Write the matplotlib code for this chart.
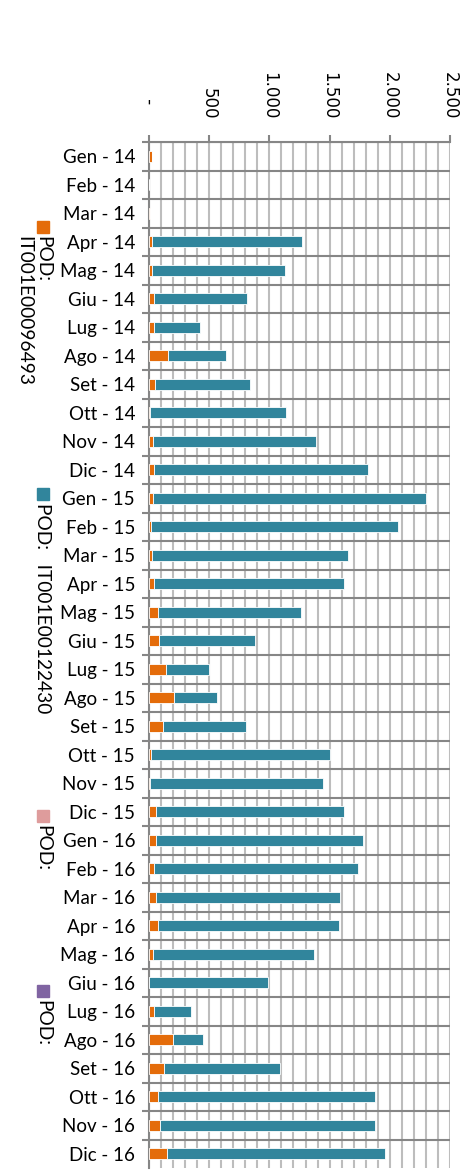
import matplotlib
matplotlib.use('Agg')
import matplotlib.pyplot as plt
from matplotlib.patches import Rectangle
import numpy as np

months = ['Gen', 'Feb', 'Mar', 'Apr', 'Mag', 'Giu', 'Lug', 'Ago', 'Set', 'Ott', 'Nov', 'Dic']
categories = ['%s - %s' % (m, y) for y in ['14', '15', '16'] for m in months]

# POD IT001E00096493 (orange)
pod_96493 = [28, 3, 12, 22, 25, 39, 42, 160, 50, 8, 36, 39,
             36, 17, 28, 39, 75, 86, 139, 205, 116, 17, 5, 61,
             61, 44, 61, 72, 36, 0, 42, 199, 128, 78, 94, 147]
# totals (orange + teal)
totals = [28, 3, 12, 1268, 1132, 811, 424, 642, 836, 1138, 1384, 1816,
          2298, 2071, 1656, 1617, 1263, 880, 498, 562, 806, 1503, 1448, 1620,
          1777, 1733, 1586, 1575, 1370, 988, 346, 451, 1086, 1875, 1878, 1961]
pod_122430 = [t - o for t, o in zip(totals, pod_96493)]

x_ticks = [0, 500, 1000, 1500, 2000, 2500]
x_ticklabels = [' -   ', '500', '1.000', '1.500', '2.000', '2.500']

orange = '#E46C0A'
teal = '#31859C'
pink = '#DE9C9C'
purple = '#8064A2'
dark = '#868686'
light = '#BDBDBD'

fig = plt.figure(figsize=(4.72, 11.75), dpi=100)
ax = fig.add_axes([149 / 472, 7 / 1175, 301 / 472, 1026 / 1175])

y = np.arange(len(categories))
ax.barh(y, pod_96493, height=0.4, color=orange, edgecolor='white', linewidth=0.6, zorder=3)
ax.barh(y, pod_122430, left=pod_96493, height=0.4, color=teal, edgecolor='white', linewidth=0.6, zorder=3)

ax.set_xlim(0, 2500)
ax.set_ylim(len(categories) - 0.5, -0.5)

ax.xaxis.tick_top()
ax.set_xticks(x_ticks)
ax.set_xticklabels(x_ticklabels, rotation=-90, fontsize=12, family='DejaVu Sans', va='bottom')
ax.set_xticks(np.arange(0, 2501, 100), minor=True)
ax.tick_params(axis='x', which='major', length=5, width=1.5, color=dark, pad=11)
ax.tick_params(axis='x', which='minor', length=0)
ax.grid(axis='x', which='both', color=light, linewidth=1.5, zorder=0)

ax.set_yticks(y)
ax.set_yticklabels(categories, fontsize=13.5, family='Lato')
ax.set_yticks(np.arange(-0.5, len(categories) - 1, 1), minor=True)
ax.tick_params(axis='y', which='major', length=0, pad=10)
ax.tick_params(axis='y', which='minor', length=5, width=1.5, color=dark)
ax.grid(axis='y', which='minor', color=dark, linewidth=1.5, zorder=1)

for s in ['right', 'bottom']:
    ax.spines[s].set_visible(False)
for s in ['top', 'left']:
    ax.spines[s].set_color(dark)
    ax.spines[s].set_linewidth(1.5)
ax.set_axisbelow(True)

# legend, drawn vertically along the left edge
legend = [(orange, 'POD:\nIT001E00096493', 221),
          (teal, 'POD:   IT001E00122430', 488),
          (pink, 'POD:', 810),
          (purple, 'POD:', 985)]
for color, label, top in legend:
    fig.patches.append(Rectangle((37 / 472, 1 - (top + 12) / 1175), 12 / 472, 12 / 1175,
                                 transform=fig.transFigure, color=color))
    fig.text(51 / 472, 1 - (top + 15) / 1175, label, rotation=-90, fontsize=13.8,
             family='Lato', ha='right', va='top', multialignment='left', linespacing=1.15)

fig.savefig('out.png', dpi=100)
